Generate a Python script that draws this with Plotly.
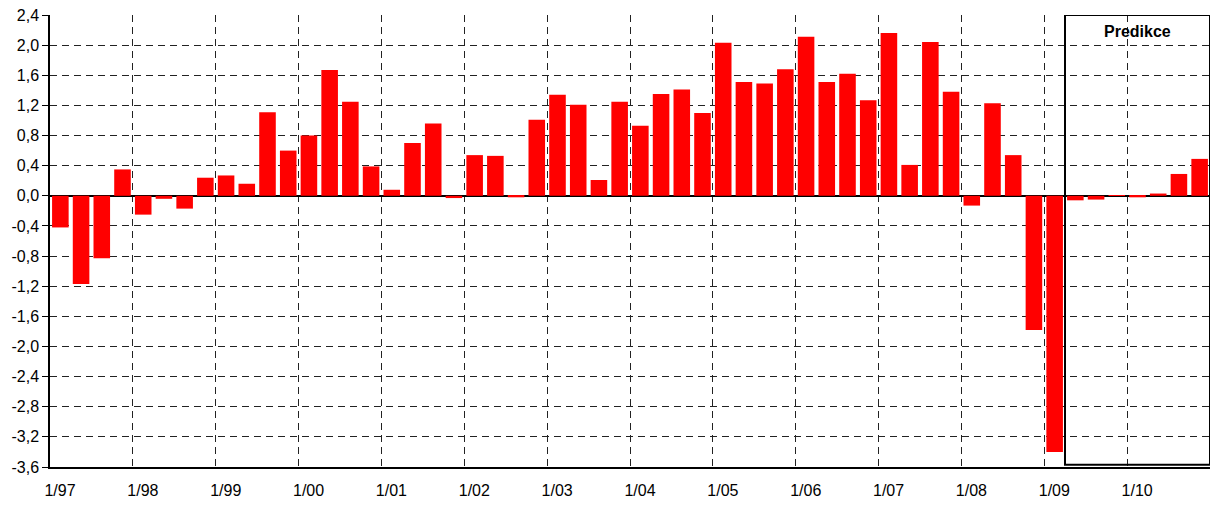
import plotly.graph_objects as go

years = ["97", "98", "99", "00", "01", "02", "03", "04", "05", "06", "07", "08", "09", "10"]
quarters = [f"{q}/{y}" for y in years for q in (1, 2, 3, 4)]
values = [
    -0.42, -1.17, -0.83, 0.35,
    -0.25, -0.04, -0.17, 0.24,
    0.27, 0.16, 1.11, 0.60,
    0.80, 1.67, 1.25, 0.39,
    0.08, 0.70, 0.96, -0.03,
    0.54, 0.53, -0.02, 1.01,
    1.34, 1.21, 0.21, 1.25,
    0.93, 1.35, 1.41, 1.10,
    2.03, 1.51, 1.49, 1.68,
    2.11, 1.51, 1.62, 1.27,
    2.16, 0.41, 2.04, 1.38,
    -0.13, 1.23, 0.54, -1.78,
    -3.40, -0.06, -0.05, 0.01,
    -0.02, 0.03, 0.29, 0.49,
]
prediction_start = "2/09"
prediction_label = "Predikce"
y_ticks = [2.4, 2.0, 1.6, 1.2, 0.8, 0.4, 0.0, -0.4, -0.8, -1.2, -1.6, -2.0, -2.4, -2.8, -3.2, -3.6]

x_idx = list(range(len(quarters)))
year_starts = [i - 0.5 for i in range(0, len(quarters), 4)]
year_labels = [f"1/{y}" for y in years]
y_text = [f"{v:.1f}".replace(".", ",") for v in y_ticks]

fig = go.Figure()
fig.add_trace(go.Bar(
    x=x_idx, y=values, marker=dict(color="#FF0000", line=dict(width=0)),
    hovertext=quarters, showlegend=False,
))

font = "Liberation Sans, Arial, sans-serif"
fig.update_layout(
    width=1211, height=505,
    margin=dict(l=50, r=1, t=15, b=38, autoexpand=False),
    plot_bgcolor="white", paper_bgcolor="white",
    bargap=0.2,
    font=dict(family=font, size=16, color="black"),
    xaxis=dict(
        range=[-0.5, len(quarters) - 0.5],
        automargin=False,
        tickmode="array", tickvals=year_starts, ticktext=year_labels,
        ticklabelshift=10,
        showgrid=True, gridcolor="#222222", gridwidth=1, griddash="7px,5px",
        ticks="outside", ticklen=8, tickcolor="rgba(0,0,0,0)",
        showline=True, linecolor="black", linewidth=1.5,
        zeroline=False,
        tickfont=dict(family=font, size=16),
    ),
    yaxis=dict(
        range=[min(y_ticks), max(y_ticks)],
        automargin=False,
        tickmode="array", tickvals=y_ticks, ticktext=y_text,
        showgrid=True, gridcolor="#222222", gridwidth=1, griddash="7px,5px",
        ticks="outside", ticklen=6, tickcolor="black",
        showline=True, linecolor="black", linewidth=1.5,
        zeroline=True, zerolinecolor="black", zerolinewidth=1.5,
        tickfont=dict(family=font, size=16),
    ),
)

p0 = quarters.index(prediction_start) - 0.5
p1 = len(quarters) - 0.5
fig.add_shape(type="rect", xref="x", yref="y",
              x0=p0, x1=p1, y0=min(y_ticks) + 0.03, y1=max(y_ticks),
              line=dict(color="black", width=2), fillcolor="rgba(0,0,0,0)")
fig.add_annotation(x=(p0 + p1) / 2, y=max(y_ticks), xref="x", yref="y",
                   text=f"<b>{prediction_label}</b>", showarrow=False,
                   yanchor="top", yshift=-6,
                   font=dict(family=font, size=16, color="black"))

fig.write_html("out.html", config={"displayModeBar": False},
               post_script="document.body.style.margin='0px';")
